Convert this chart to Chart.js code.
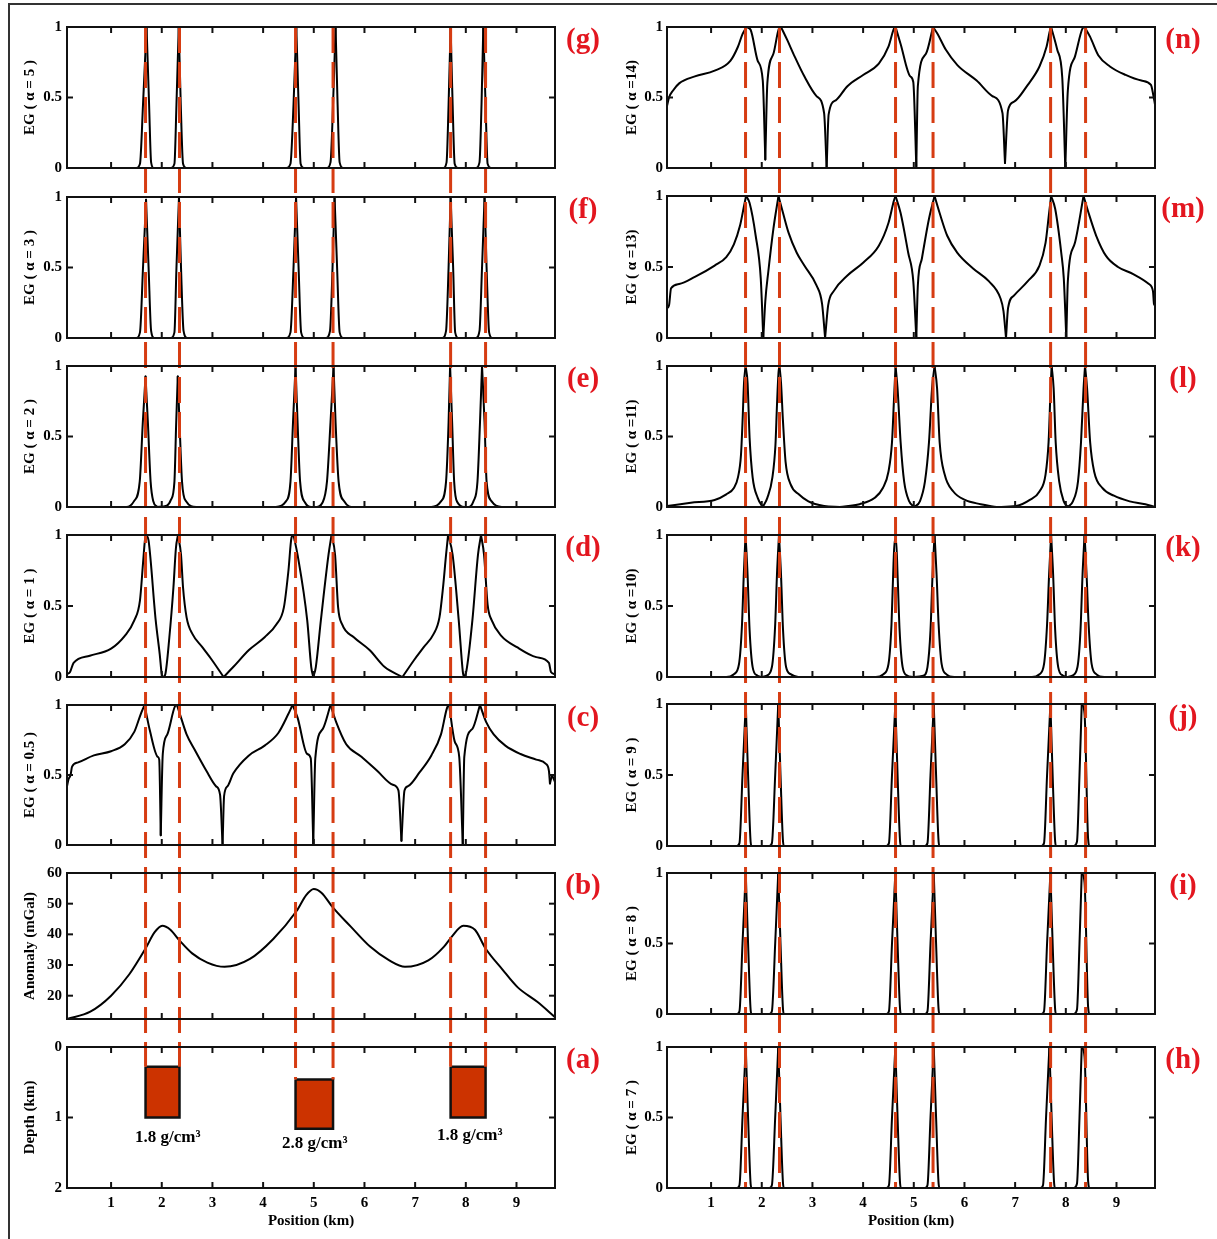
<!DOCTYPE html>
<html>
<head>
<meta charset="utf-8">
<script src="https://cdn.jsdelivr.net/npm/chart.js@4.4.1/dist/chart.umd.min.js"></script>
<style>
  body { margin: 0; background: #fff; }
  #fig { position: relative; width: 1217px; height: 1239px; overflow: hidden; }
  #fig canvas { position: absolute; }
  #frame { position: absolute; left: 8px; top: 3px; width: 1220px; height: 1250px;
           border-left: 2px solid #333; border-top: 2px solid #333; }
</style>
</head>
<body>
<div id="fig"><div id="frame"></div></div>
<script>
// ---- axes ----
const X_MIN = 0.13, X_MAX = 9.76;
const xTicks = [1, 2, 3, 4, 5, 6, 7, 8, 9];
const egTicks = [0, 0.5, 1];
const anomalyTicks = [20, 30, 40, 50, 60];
const depthTicks = [0, 1, 2];

// ---- model bodies (km) ----
const bodyLeft = [1.68, 4.64, 7.70];
const bodyRight = [2.35, 5.38, 8.39];
const bodyTop = [0.28, 0.46, 0.28];
const bodyBottom = [1.0, 1.16, 1.0];
const bodyDensity = ['1.8 g/cm³', '2.8 g/cm³', '1.8 g/cm³'];
const bodyLabelPos = [2.12, 5.02, 8.08];
const bodyLabelDepth = [1.28, 1.37, 1.26];

// ---- gravity anomaly (b): [position km, mGal] ----
const anomaly = [[0.13,12.4],[0.59,14.8],[1.0,20.0],[1.36,27.0],[1.68,35.4],[1.86,40.7],[2.01,42.8],[2.17,41.5],[2.35,38.0],[2.6,33.8],[2.9,30.8],[3.24,29.4],[3.74,32.0],[4.2,38.5],[4.66,47.6],[4.85,52.8],[5.0,54.8],[5.15,53.6],[5.38,48.7],[5.73,42.5],[6.11,36.0],[6.49,31.5],[6.8,29.4],[7.26,31.5],[7.57,36.0],[7.72,39.2],[7.95,42.8],[8.18,41.5],[8.39,35.4],[8.72,28.6],[9.02,22.8],[9.41,18.0],[9.76,13.0]];

// ---- EG curves: [position km, EG] ----
const egC = [[0.13,0.42],[0.16,0.47],[0.20,0.50],[0.23,0.56],[0.35,0.59],[0.66,0.64],[1.00,0.67],[1.27,0.72],[1.46,0.81],[1.58,0.93],[1.66,1.00],[1.77,0.81],[1.92,0.63],[1.95,0.61],[1.98,0.07],[2.02,0.65],[2.11,0.79],[2.26,0.99],[2.30,1.00],[2.38,0.91],[2.49,0.79],[2.65,0.68],[2.88,0.53],[3.07,0.42],[3.15,0.36],[3.20,0.00],[3.23,0.35],[3.30,0.42],[3.41,0.51],[3.72,0.64],[4.03,0.71],[4.30,0.80],[4.49,0.93],[4.58,1.00],[4.68,0.91],[4.87,0.65],[4.94,0.62],[4.99,0.01],[5.03,0.62],[5.18,0.83],[5.33,1.00],[5.44,0.88],[5.64,0.72],[5.94,0.63],[6.25,0.53],[6.56,0.43],[6.67,0.39],[6.73,0.03],[6.79,0.39],[6.86,0.42],[7.09,0.52],[7.32,0.64],[7.51,0.79],[7.63,0.98],[7.67,1.00],[7.78,0.74],[7.87,0.63],[7.94,0.00],[7.97,0.63],[8.13,0.83],[8.28,1.00],[8.40,0.88],[8.55,0.79],[8.78,0.71],[9.08,0.65],[9.39,0.61],[9.58,0.58],[9.64,0.53],[9.66,0.44],[9.70,0.50],[9.76,0.45]];
const egD = [[0.13,0.02],[0.19,0.035],[0.26,0.10],[0.58,0.15],[1.00,0.20],[1.27,0.29],[1.46,0.40],[1.57,0.54],[1.63,0.80],[1.67,0.97],[1.70,1.00],[1.74,0.96],[1.88,0.40],[1.96,0.16],[2.00,0.02],[2.03,0.00],[2.07,0.02],[2.15,0.28],[2.23,0.63],[2.28,0.91],[2.32,1.00],[2.38,0.86],[2.42,0.63],[2.49,0.42],[2.61,0.30],[2.80,0.21],[2.99,0.12],[3.22,0.00],[3.41,0.07],[3.72,0.19],[4.03,0.28],[4.26,0.37],[4.41,0.49],[4.50,0.75],[4.56,0.98],[4.60,1.00],[4.68,0.86],[4.87,0.40],[4.95,0.07],[4.99,0.00],[5.04,0.07],[5.14,0.40],[5.29,0.86],[5.35,1.00],[5.42,0.86],[5.48,0.49],[5.56,0.37],[5.79,0.28],[6.10,0.19],[6.40,0.07],[6.75,0.00],[6.98,0.12],[7.17,0.21],[7.36,0.30],[7.48,0.42],[7.55,0.63],[7.61,0.86],[7.65,1.00],[7.74,0.86],[7.86,0.40],[7.94,0.04],[7.96,0.00],[8.01,0.04],[8.13,0.40],[8.24,0.86],[8.30,1.00],[8.36,0.86],[8.43,0.51],[8.51,0.40],[8.70,0.29],[9.01,0.21],[9.39,0.14],[9.64,0.10],[9.68,0.035],[9.76,0.02]];
const egE = [[0.13,0],[1.30,0],[1.45,0.04],[1.565,0.18],[1.626,0.6],[1.68,0.925],[1.726,0.6],[1.78,0.18],[1.833,0.04],[1.91,0],[2.10,0.01],[2.18,0.05],[2.25,0.18],[2.285,0.6],[2.316,0.925],[2.35,0.6],[2.40,0.18],[2.48,0.04],[2.68,0],[4.25,0],[4.45,0.04],[4.54,0.18],[4.59,0.6],[4.64,1],[4.68,0.6],[4.73,0.18],[4.83,0.03],[4.95,0],[5.05,0],[5.17,0.03],[5.26,0.18],[5.33,0.6],[5.39,1],[5.43,0.6],[5.49,0.18],[5.60,0.04],[5.79,0],[7.32,0],[7.51,0.04],[7.61,0.18],[7.66,0.6],[7.69,1],[7.73,0.6],[7.77,0.18],[7.84,0.03],[7.97,0],[8.05,0],[8.15,0.04],[8.23,0.18],[8.28,0.6],[8.32,1],[8.37,0.6],[8.41,0.18],[8.51,0.04],[8.71,0],[9.76,0]];
const egF = [[0.13,0],[1.50,0],[1.57,0.04],[1.63,0.5],[1.69,0.98],[1.74,0.5],[1.79,0.05],[1.85,0],[2.18,0],[2.25,0.04],[2.29,0.5],[2.34,1],[2.38,0.5],[2.43,0.05],[2.50,0],[4.46,0],[4.54,0.04],[4.60,0.5],[4.65,1],[4.70,0.5],[4.75,0.04],[4.82,0],[5.24,0],[5.32,0.05],[5.37,0.5],[5.41,1],[5.46,0.5],[5.51,0.04],[5.58,0],[7.54,0],[7.61,0.05],[7.66,0.5],[7.70,1],[7.75,0.5],[7.79,0.04],[7.85,0],[8.20,0],[8.27,0.05],[8.32,0.5],[8.37,1],[8.41,0.5],[8.46,0.04],[8.52,0],[9.76,0]];
const egG = [[0.13,0],[1.50,0],[1.57,0.03],[1.63,0.45],[1.70,1],[1.75,0.45],[1.79,0.04],[1.84,0],[2.18,0],[2.25,0.03],[2.29,0.45],[2.335,1],[2.375,0.45],[2.42,0.03],[2.48,0],[4.46,0],[4.54,0.03],[4.60,0.45],[4.655,1],[4.70,0.45],[4.74,0.03],[4.80,0],[5.26,0],[5.33,0.04],[5.38,0.45],[5.43,1],[5.47,0.45],[5.51,0.04],[5.58,0],[7.56,0],[7.62,0.04],[7.66,0.45],[7.70,1],[7.74,0.45],[7.78,0.03],[7.84,0],[8.20,0],[8.27,0.04],[8.31,0.45],[8.345,1],[8.39,0.45],[8.43,0.03],[8.50,0],[9.76,0]];
const egH = [[0.13,0],[1.51,0],[1.56,0.02],[1.62,0.5],[1.684,1],[1.73,0.5],[1.78,0.03],[1.80,0],[2.15,0],[2.20,0.02],[2.265,0.5],[2.325,1],[2.37,0.5],[2.42,0.03],[2.44,0],[4.46,0],[4.51,0.02],[4.57,0.5],[4.636,1],[4.68,0.5],[4.73,0.03],[4.75,0],[5.22,0],[5.27,0.02],[5.33,0.5],[5.394,1],[5.44,0.5],[5.49,0.03],[5.51,0],[7.50,0],[7.55,0.02],[7.61,0.5],[7.676,1],[7.72,0.5],[7.77,0.03],[7.79,0],[8.16,0],[8.22,0.03],[8.27,0.5],[8.314,1],[8.37,0.93],[8.44,0.05],[8.47,0],[9.76,0]];
const egI = [[0.13,0],[1.51,0],[1.56,0.02],[1.62,0.5],[1.684,1],[1.73,0.5],[1.78,0.03],[1.80,0],[2.15,0],[2.20,0.02],[2.265,0.5],[2.325,1],[2.37,0.5],[2.42,0.03],[2.44,0],[4.46,0],[4.51,0.02],[4.57,0.5],[4.636,1],[4.68,0.5],[4.73,0.03],[4.75,0],[5.22,0],[5.27,0.02],[5.33,0.5],[5.394,1],[5.44,0.5],[5.49,0.03],[5.51,0],[7.52,0],[7.57,0.02],[7.63,0.5],[7.696,1],[7.74,0.5],[7.79,0.03],[7.81,0],[8.16,0],[8.22,0.03],[8.27,0.5],[8.314,1],[8.37,0.93],[8.44,0.05],[8.47,0],[9.76,0]];
const egJ = [[0.13,0],[1.51,0],[1.56,0.02],[1.62,0.5],[1.684,1],[1.73,0.5],[1.78,0.03],[1.80,0],[2.15,0],[2.20,0.02],[2.265,0.5],[2.325,1],[2.37,0.5],[2.42,0.03],[2.44,0],[4.46,0],[4.51,0.02],[4.57,0.5],[4.636,1],[4.68,0.5],[4.73,0.03],[4.75,0],[5.22,0],[5.27,0.02],[5.33,0.5],[5.394,1],[5.44,0.5],[5.49,0.03],[5.51,0],[7.52,0],[7.57,0.02],[7.63,0.5],[7.696,1],[7.74,0.5],[7.79,0.03],[7.81,0],[8.16,0],[8.22,0.03],[8.27,0.5],[8.314,1],[8.37,0.93],[8.44,0.05],[8.47,0],[9.76,0]];
const egK = [[0.13,0],[1.30,0],[1.45,0.02],[1.55,0.09],[1.61,0.37],[1.645,0.72],[1.68,1],[1.72,0.72],[1.76,0.33],[1.82,0.07],[1.91,0.01],[2.0,0],[2.10,0.01],[2.20,0.07],[2.265,0.37],[2.30,0.72],[2.34,1],[2.38,0.72],[2.42,0.33],[2.48,0.07],[2.57,0.02],[2.72,0],[4.25,0],[4.40,0.02],[4.50,0.09],[4.56,0.37],[4.60,0.8],[4.625,0.97],[4.65,0.97],[4.68,0.72],[4.72,0.33],[4.78,0.07],[4.87,0.01],[4.98,0],[5.19,0.01],[5.27,0.07],[5.33,0.33],[5.37,0.72],[5.41,1],[5.45,0.72],[5.49,0.37],[5.55,0.09],[5.64,0.02],[5.80,0],[7.33,0],[7.48,0.02],[7.57,0.09],[7.63,0.37],[7.67,0.72],[7.71,1],[7.75,0.72],[7.79,0.33],[7.85,0.07],[7.94,0.01],[8.03,0],[8.13,0.01],[8.23,0.07],[8.29,0.33],[8.33,0.72],[8.37,1],[8.41,0.72],[8.45,0.37],[8.51,0.09],[8.60,0.02],[8.76,0],[9.76,0]];
const egL = [[0.13,0.007],[0.60,0.03],[1.07,0.05],[1.30,0.09],[1.45,0.135],[1.53,0.21],[1.59,0.37],[1.62,0.6],[1.65,0.88],[1.68,1.0],[1.72,0.88],[1.76,0.49],[1.82,0.21],[1.92,0.065],[2.02,0.0],[2.11,0.065],[2.21,0.21],[2.27,0.44],[2.30,0.72],[2.33,0.95],[2.35,1.0],[2.38,0.88],[2.42,0.6],[2.47,0.32],[2.57,0.16],[2.73,0.09],[2.92,0.04],[3.23,0.007],[3.54,0.0],[3.93,0.02],[4.23,0.065],[4.39,0.135],[4.50,0.25],[4.57,0.46],[4.61,0.77],[4.64,1.0],[4.68,0.84],[4.74,0.46],[4.81,0.18],[4.91,0.04],[5.01,0.0],[5.12,0.04],[5.22,0.18],[5.30,0.46],[5.36,0.84],[5.41,1.0],[5.46,0.84],[5.51,0.46],[5.61,0.23],[5.78,0.11],[6.01,0.05],[6.32,0.02],[6.63,0.0],[7.02,0.007],[7.29,0.05],[7.48,0.11],[7.60,0.23],[7.66,0.46],[7.70,0.84],[7.72,1.0],[7.76,0.84],[7.80,0.46],[7.87,0.18],[7.96,0.04],[8.04,0.0],[8.14,0.04],[8.24,0.18],[8.30,0.46],[8.35,0.84],[8.38,1.0],[8.42,0.84],[8.48,0.46],[8.56,0.25],[8.72,0.135],[8.95,0.08],[9.26,0.04],[9.57,0.02],[9.76,0.0]];
const egM = [[0.13,0.21],[0.17,0.23],[0.21,0.35],[0.37,0.38],[0.68,0.43],[1.07,0.51],[1.30,0.57],[1.45,0.66],[1.57,0.79],[1.65,0.93],[1.69,1.00],[1.76,0.95],[1.88,0.72],[1.98,0.42],[2.03,0.00],[2.07,0.26],[2.13,0.47],[2.23,0.77],[2.33,1.00],[2.42,0.88],[2.53,0.74],[2.69,0.60],[2.84,0.51],[3.08,0.37],[3.19,0.24],[3.25,0.00],[3.31,0.23],[3.42,0.33],[3.69,0.44],[4.00,0.53],[4.31,0.65],[4.50,0.81],[4.61,0.97],[4.64,1.00],[4.74,0.88],[4.89,0.60],[4.99,0.40],[5.05,0.00],[5.08,0.37],[5.16,0.56],[5.30,0.84],[5.41,1.00],[5.51,0.88],[5.66,0.72],[5.86,0.60],[6.17,0.49],[6.48,0.40],[6.71,0.28],[6.77,0.19],[6.82,0.00],[6.86,0.21],[6.98,0.30],[7.25,0.40],[7.48,0.51],[7.60,0.67],[7.67,0.88],[7.71,1.00],[7.79,0.91],[7.91,0.60],[7.96,0.42],[8.01,0.00],[8.04,0.40],[8.18,0.67],[8.35,1.00],[8.45,0.88],[8.60,0.72],[8.79,0.58],[9.03,0.50],[9.33,0.45],[9.64,0.38],[9.72,0.33],[9.74,0.24],[9.76,0.23]];
const egN = [[0.13,0.44],[0.17,0.50],[0.25,0.55],[0.37,0.60],[0.68,0.65],[1.07,0.69],[1.38,0.76],[1.53,0.86],[1.62,0.95],[1.70,1.00],[1.78,0.98],[1.92,0.76],[2.02,0.62],[2.07,0.06],[2.11,0.60],[2.23,0.81],[2.34,0.99],[2.38,1.00],[2.50,0.91],[2.65,0.79],[2.84,0.65],[3.08,0.51],[3.23,0.39],[3.28,0.00],[3.32,0.38],[3.46,0.48],[3.69,0.58],[4.00,0.66],[4.31,0.74],[4.50,0.86],[4.61,0.99],[4.64,1.00],[4.74,0.88],[4.93,0.65],[4.99,0.61],[5.05,0.01],[5.08,0.58],[5.24,0.81],[5.38,1.00],[5.47,0.95],[5.63,0.84],[5.86,0.73],[6.24,0.62],[6.55,0.51],[6.75,0.39],[6.80,0.035],[6.86,0.41],[6.98,0.47],[7.25,0.59],[7.48,0.72],[7.62,0.86],[7.69,0.98],[7.71,1.00],[7.83,0.84],[7.93,0.64],[7.99,0.00],[8.04,0.55],[8.18,0.79],[8.33,0.99],[8.37,1.00],[8.48,0.93],[8.64,0.80],[8.87,0.72],[9.18,0.66],[9.49,0.62],[9.68,0.59],[9.73,0.51],[9.76,0.45]];

// ---- styling ----
const FONT = "'Liberation Serif', 'Times New Roman', serif";
const DASH_RED = '#d63c12';
const TAG_RED = '#e3161f';
const BODY_FILL = '#cc3300';
const FIG_H = 1239;
Chart.defaults.font.family = FONT;
Chart.defaults.color = '#000';

const cols = [
  { x0: 0, w: 612, left: 67, right: 555, titlePad: 21, tickPad: 5, dashStart: 27 },
  { x0: 612, w: 605, left: 55, right: 543, titlePad: 11, tickPad: 4, dashStart: 27 }
];

const panels = [
  { col: 0, tag: '(g)', title: 'EG ( α = 5 )', series: egG, top: 27, bottom: 168, slice: [0, 182] },
  { col: 0, tag: '(f)', title: 'EG ( α = 3 )', series: egF, top: 197, bottom: 338, slice: [182, 352] },
  { col: 0, tag: '(e)', title: 'EG ( α = 2 )', series: egE, top: 366, bottom: 508, slice: [352, 521] },
  { col: 0, tag: '(d)', title: 'EG ( α = 1 )', series: egD, top: 535, bottom: 677, slice: [521, 691] },
  { col: 0, tag: '(c)', title: 'EG ( α = 0.5 )', series: egC, top: 705, bottom: 846, slice: [691, 859] },
  { col: 0, tag: '(b)', title: 'Anomaly (mGal)', series: anomaly, smooth: true, yMin: 12.4, yMax: 60, yTicks: anomalyTicks, top: 872, bottom: 1020, slice: [859, 1033] },
  { col: 0, tag: '(a)', title: 'Depth (km)', model: true, yMin: 0, yMax: 2, yTicks: depthTicks, reverse: true, top: 1047, bottom: 1188, slice: [1033, 1239] },
  { col: 1, tag: '(n)', title: 'EG ( α =14)', series: egN, top: 27, bottom: 168, slice: [0, 182] },
  { col: 1, tag: '(m)', title: 'EG ( α =13)', series: egM, top: 196, bottom: 338, slice: [182, 352] },
  { col: 1, tag: '(l)', title: 'EG ( α =11)', series: egL, top: 366, bottom: 507, slice: [352, 521] },
  { col: 1, tag: '(k)', title: 'EG ( α =10)', series: egK, top: 535, bottom: 677, slice: [521, 690] },
  { col: 1, tag: '(j)', title: 'EG ( α = 9 )', series: egJ, top: 704, bottom: 846, slice: [690, 859] },
  { col: 1, tag: '(i)', title: 'EG ( α = 8 )', series: egI, top: 873, bottom: 1014, slice: [859, 1030] },
  { col: 1, tag: '(h)', title: 'EG ( α = 7 )', series: egH, top: 1047, bottom: 1188, slice: [1030, 1239] }
];

const edges = bodyLeft.flatMap((l, i) => [l, bodyRight[i]]);
const fig = document.getElementById('fig');

// split a curve at its sharp extrema so every piece is monotone;
// each piece is smoothed separately and the cusps stay sharp
function monotoneRuns(series) {
  const runs = [];
  let cur = [series[0]];
  for (let i = 1; i < series.length; i++) {
    cur.push(series[i]);
    if (i < series.length - 1) {
      const d1 = series[i][1] - series[i - 1][1];
      const d2 = series[i + 1][1] - series[i][1];
      if ((d1 > 0 && d2 < 0) || (d1 < 0 && d2 > 0)) {
        runs.push(cur);
        cur = [series[i]];
      }
    }
  }
  runs.push(cur);
  return runs;
}

function line(ctx, x1, y1, x2, y2) {
  ctx.beginPath(); ctx.moveTo(x1, y1); ctx.lineTo(x2, y2); ctx.stroke();
}

// frame, inward ticks, red edge markers, panel tag
function decorate(chart, p) {
  const { ctx, chartArea: a, scales: { x, y } } = chart;
  const c = cols[p.col];
  const first = p.slice[0] === 0;
  const last = p.slice[1] === FIG_H;
  ctx.save();

  ctx.strokeStyle = DASH_RED;
  ctx.lineWidth = 3;
  ctx.setLineDash([26, 9]);
  edges.forEach((e, i) => {
    const px = x.getPixelForValue(e);
    const y0 = first ? a.top : 0;
    let y1 = chart.height;
    if (last) y1 = p.model ? y.getPixelForValue(bodyTop[Math.floor(i / 2)]) : a.bottom;
    ctx.lineDashOffset = p.slice[0] + y0 - c.dashStart;
    line(ctx, px, y0, px, y1);
  });
  ctx.setLineDash([]);

  ctx.strokeStyle = '#111';
  ctx.lineWidth = 2;
  ctx.strokeRect(a.left, a.top, a.width, a.height);
  xTicks.forEach(v => {
    const px = x.getPixelForValue(v);
    line(ctx, px, a.bottom, px, a.bottom - 6);
    line(ctx, px, a.top, px, a.top + 6);
  });
  (p.yTicks || egTicks).forEach(v => {
    const py = y.getPixelForValue(v);
    line(ctx, a.left, py, a.left + 6, py);
    line(ctx, a.right, py, a.right - 6, py);
  });

  ctx.fillStyle = TAG_RED;
  ctx.font = `bold 29px ${FONT}`;
  ctx.textAlign = 'center';
  ctx.textBaseline = 'middle';
  ctx.fillText(p.tag, a.right + 28, a.top + 14);

  if (p.model) {
    ctx.fillStyle = '#000';
    ctx.font = `bold 17px ${FONT}`;
    bodyDensity.forEach((t, i) => {
      ctx.fillText(t, x.getPixelForValue(bodyLabelPos[i]), y.getPixelForValue(bodyLabelDepth[i]));
    });
  }
  ctx.restore();
}

function makePanel(p) {
  const c = cols[p.col];
  const h = p.slice[1] - p.slice[0];
  const cv = document.createElement('canvas');
  cv.width = c.w; cv.height = h;
  Object.assign(cv.style, { left: c.x0 + 'px', top: p.slice[0] + 'px', width: c.w + 'px', height: h + 'px' });
  fig.appendChild(cv);
  const bottomAxis = p.slice[1] === FIG_H;
  const tickFont = { family: FONT, size: 15, weight: 'bold' };

  let datasets;
  if (p.model) {
    datasets = bodyLeft.map((l, i) => ({
      data: [[l, bodyTop[i]], [bodyRight[i], bodyTop[i]], [bodyRight[i], bodyBottom[i]], [l, bodyBottom[i]], [l, bodyTop[i]]]
        .map(([x, y]) => ({ x, y })),
      borderColor: '#111', borderWidth: 2.5, backgroundColor: BODY_FILL,
      fill: 'shape', pointRadius: 0, tension: 0
    }));
  } else {
    const pieces = p.smooth ? [p.series] : monotoneRuns(p.series);
    datasets = pieces.map(run => ({
      data: run.map(([x, y]) => ({ x, y })),
      borderColor: '#000', borderWidth: 2, pointRadius: 0, fill: false,
      borderCapStyle: 'round', borderJoinStyle: 'round',
      cubicInterpolationMode: 'monotone'
    }));
  }

  new Chart(cv, {
    type: 'line',
    data: { datasets },
    options: {
      responsive: false,
      animation: false,
      devicePixelRatio: 1,
      layout: { padding: { left: 0, right: c.w - c.right, top: p.top - p.slice[0], bottom: bottomAxis ? 0 : p.slice[1] - p.bottom } },
      plugins: { legend: { display: false }, tooltip: { enabled: false } },
      scales: {
        x: {
          type: 'linear', min: X_MIN, max: X_MAX,
          grid: { display: false, drawTicks: false }, border: { display: false },
          ticks: { display: bottomAxis, font: tickFont, color: '#000', padding: 6, maxRotation: 0, autoSkip: false, callback: v => String(v) },
          afterBuildTicks: s => { s.ticks = xTicks.map(v => ({ value: v })); },
          afterFit: s => { s.height = bottomAxis ? FIG_H - p.bottom : 0; },
          title: { display: bottomAxis, text: 'Position (km)', color: '#000', font: tickFont, padding: { top: 0, bottom: 9 } }
        },
        y: {
          type: 'linear', min: p.yMin ?? 0, max: p.yMax ?? 1, reverse: !!p.reverse,
          grid: { display: false, drawTicks: false }, border: { display: false },
          ticks: { font: tickFont, color: '#000', padding: c.tickPad, callback: v => String(v) },
          afterBuildTicks: s => { s.ticks = (p.yTicks || egTicks).map(v => ({ value: v })); },
          afterFit: s => { s.width = c.left; },
          title: { display: true, text: p.title, color: '#000', font: tickFont, padding: { top: c.titlePad, bottom: 0 } }
        }
      }
    },
    plugins: [{ id: 'decor', afterDraw: chart => decorate(chart, p) }]
  });
}

panels.forEach(makePanel);
</script>
</body>
</html>
